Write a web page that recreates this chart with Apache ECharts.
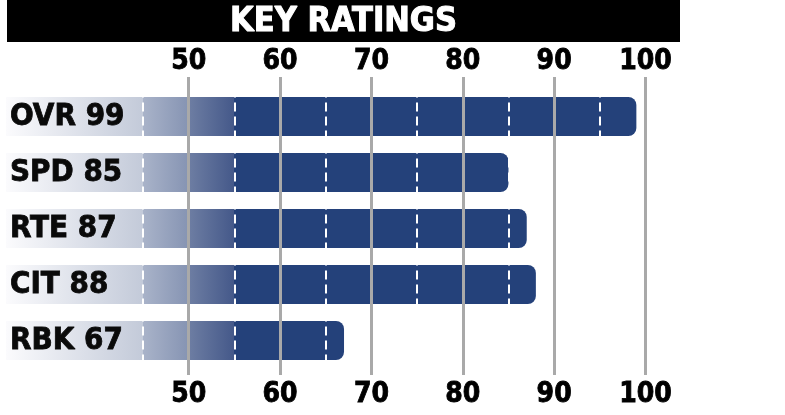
<!DOCTYPE html>
<html>
<head>
<meta charset="utf-8">
<script src="https://cdn.jsdelivr.net/npm/echarts@6/dist/echarts.min.js"></script>
<style>
html,body{margin:0;padding:0;background:#fff;}
#chart{width:785px;height:415px;}
</style>
</head>
<body>
<div id="chart"></div>
<script>
var titleText = 'KEY RATINGS';
var categories = ['OVR', 'SPD', 'RTE', 'CIT', 'RBK'];
var ratings = [99, 85, 87, 88, 67];
var axisMin = 30;
var axisMax = 100;
var tickInterval = 10;
var firstLabelValue = 50;
var dashValues = [45, 55, 65, 75, 85, 95];

var rowLabels = categories.map(function (c, i) { return c + ' ' + ratings[i]; });
var FONT = '"DejaVu Sans Condensed", "DejaVu Sans", sans-serif';
var gridColor = '#a9a9a9';
var splitColors = [];
for (var v = axisMin; v <= axisMax; v += tickInterval) {
  splitColors.push(v < firstLabelValue ? 'rgba(0,0,0,0)' : gridColor);
}

var barFill = {
  type: 'linear', x: 6, y: 0, x2: 237, y2: 0, global: true,
  colorStops: [
    { offset: 0, color: '#fbfbfd' },
    { offset: 0.593, color: '#c3cad9' },
    { offset: 0.594, color: '#a9b3c9' },
    { offset: 0.788, color: '#8694b3' },
    { offset: 0.789, color: '#6e7ea3' },
    { offset: 0.985, color: '#45598a' },
    { offset: 0.986, color: '#24417a' },
    { offset: 1, color: '#24417a' }
  ]
};

function tickLabel(margin) {
  return {
    margin: margin,
    fontFamily: FONT, fontWeight: 'bold', fontSize: 28, color: '#000',
    textBorderColor: '#000', textBorderWidth: 0.8,
    formatter: function (val) { return val < firstLabelValue ? '' : String(val); }
  };
}

var chart = echarts.init(document.getElementById('chart'));
chart.setOption({
  animation: false,
  backgroundColor: '#fff',
  title: {
    text: titleText,
    left: 343.5, top: 5, textAlign: 'center', padding: 0,
    textStyle: { color: '#fff', fontFamily: FONT, fontWeight: 'bold', fontSize: 34,
      textBorderColor: '#fff', textBorderWidth: 1 }
  },
  graphic: [{
    type: 'rect', left: 7, top: 0, z: -1,
    shape: { width: 673, height: 42 },
    style: { fill: '#000' }
  }],
  grid: [
    { left: 6, right: 139.5, top: 88.5, bottom: 46.5 },
    { left: 6, right: 139.5, top: 77, bottom: 40 }
  ],
  xAxis: [
    { type: 'value', gridIndex: 0, min: axisMin, max: axisMax, interval: tickInterval,
      axisLine: { show: false }, axisTick: { show: false }, axisLabel: { show: false }, splitLine: { show: false } },
    { type: 'value', gridIndex: 1, position: 'top', min: axisMin, max: axisMax, interval: tickInterval, z: 10,
      axisLine: { show: false }, axisTick: { show: false },
      axisLabel: tickLabel(1),
      splitLine: { show: true, lineStyle: { color: splitColors, width: 3 } } },
    { type: 'value', gridIndex: 1, position: 'bottom', min: axisMin, max: axisMax, interval: tickInterval, z: 10,
      axisLine: { show: false }, axisTick: { show: false },
      axisLabel: tickLabel(6),
      splitLine: { show: false } }
  ],
  yAxis: [
    { type: 'category', gridIndex: 0, data: rowLabels, inverse: true, z: 10,
      axisLine: { show: false }, axisTick: { show: false },
      axisLabel: { inside: true, margin: 4, fontFamily: FONT, fontWeight: 'bold', fontSize: 31, color: '#0a0a0a',
        textBorderColor: '#0a0a0a', textBorderWidth: 0.8 } },
    { type: 'value', gridIndex: 1, show: false }
  ],
  series: [{
    type: 'bar', xAxisIndex: 0, yAxisIndex: 0,
    data: ratings, barWidth: 39,
    itemStyle: { color: barFill, borderRadius: [0, 8, 8, 0] },
    markLine: {
      silent: true, symbol: 'none', label: { show: false }, z: 5,
      lineStyle: { color: '#fff', type: [9, 5], width: 2 },
      data: dashValues.map(function (d) { return { xAxis: d }; })
    }
  }]
});
</script>
</body>
</html>
